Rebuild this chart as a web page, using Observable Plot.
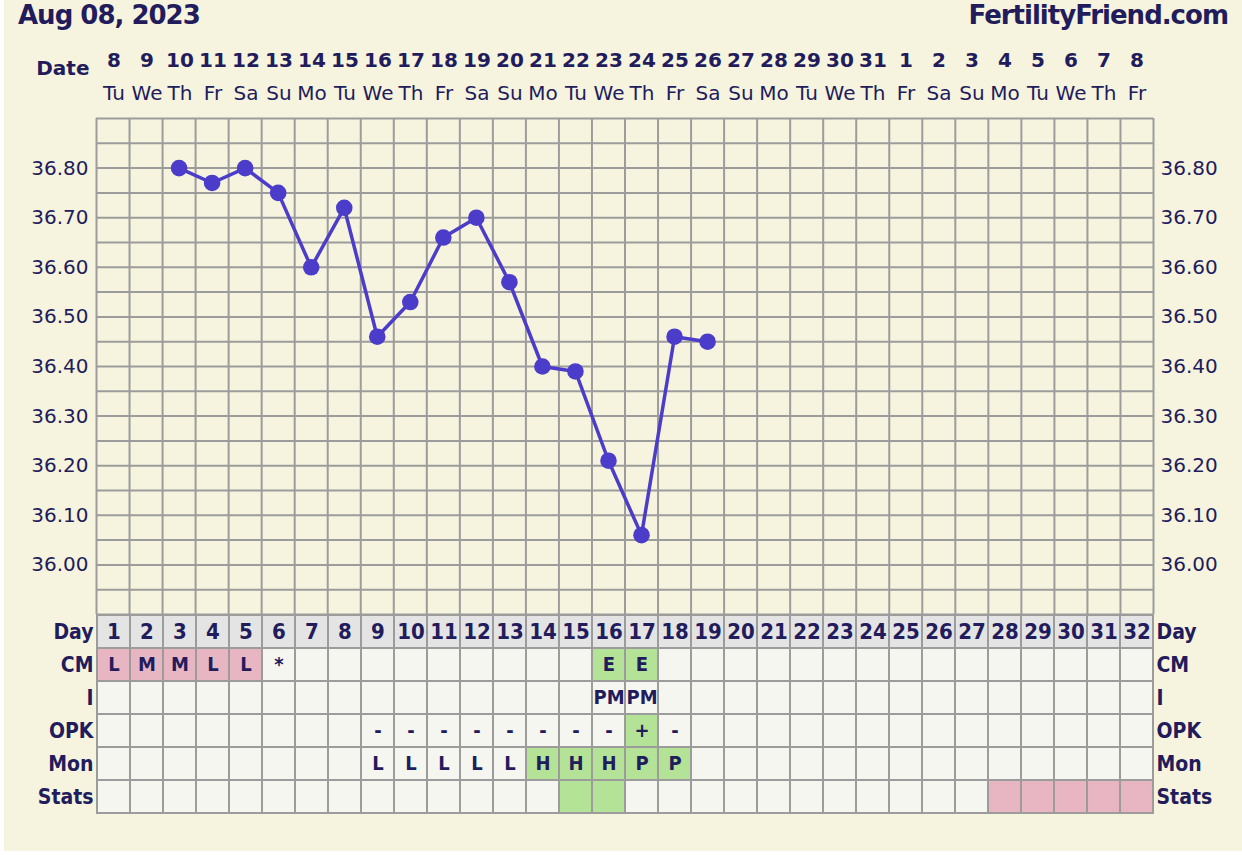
<!DOCTYPE html>
<html><head><meta charset="utf-8">
<script src="https://cdn.jsdelivr.net/npm/d3@7"></script>
<script src="https://cdn.jsdelivr.net/npm/@observablehq/plot@0.6"></script>
<style>
body{margin:0;background:#fff;}
#wrap{position:relative;width:1242px;height:855px;background:#fff;overflow:hidden;}
#bg{position:absolute;left:4px;top:0;width:1238px;height:851px;background:#f6f4de;}
.p{position:absolute;left:0;}
.title{position:absolute;font-family:"DejaVu Sans";font-weight:bold;color:#221c5c;font-size:26px;letter-spacing:-1px;}
</style></head><body>
<div id="wrap"><div id="bg"></div>
<div class="title" style="left:18px;top:0px">Aug 08, 2023</div>
<div class="title" style="right:14px;top:0px">FertilityFriend.com</div>
</div>
<script>
// ---- data ----
const days = d3.range(1, 33);
const dateLabels = ["8","9","10","11","12","13","14","15","16","17","18","19","20","21","22","23","24","25","26","27","28","29","30","31","1","2","3","4","5","6","7","8"];
const dowLabels = ["Tu","We","Th","Fr","Sa","Su","Mo","Tu","We","Th","Fr","Sa","Su","Mo","Tu","We","Th","Fr","Sa","Su","Mo","Tu","We","Th","Fr","Sa","Su","Mo","Tu","We","Th","Fr"];
const tempDays = [3,4,5,6,7,8,9,10,11,12,13,14,15,16,17,18,19];
const tempValues = [36.80,36.77,36.80,36.75,36.60,36.72,36.46,36.53,36.66,36.70,36.57,36.40,36.39,36.21,36.06,36.46,36.45];
const yTicks = [36.0,36.1,36.2,36.3,36.4,36.5,36.6,36.7,36.8];
const rows = ["Day","CM","I","OPK","Mon","Stats"];
const cmDays = [1,2,3,4,5,6,16,17];
const cmText = ["L","M","M","L","L","*","E","E"];
const cmKind = ["period","period","period","period","period","","fertile","fertile"];
const iDays = [16,17];
const iText = ["PM","PM"];
const opkDays = [9,10,11,12,13,14,15,16,17,18];
const opkText = ["-","-","-","-","-","-","-","-","+","-"];
const opkKind = ["","","","","","","","","fertile",""];
const monDays = [9,10,11,12,13,14,15,16,17,18];
const monText = ["L","L","L","L","L","H","H","H","P","P"];
const monKind = ["","","","","","fertile","fertile","fertile","fertile","fertile"];
const statsDays = [15,16,28,29,30,31,32];
const statsKind = ["fertile","fertile","period","period","period","period","period"];

// ---- colours ----
const ink = "#221c5c";
const gridC = "#9c9c9c";
const lineC = "#4b3dc9";
const kindFill = {"period":"#e8b6c2","fertile":"#b4e398","":"#f6f6f0"};
const W = 1242, ML = 96, MR = 89;
const wrap = document.getElementById("wrap");
function place(svg, top){ svg.classList.add("p"); svg.style.top = top + "px"; wrap.appendChild(svg); }

// ---- header: dates ----
const header = Plot.plot({
  width: W, height: 118, marginLeft: ML, marginRight: MR, marginTop: 43.5, marginBottom: 8.5,
  x: {type: "band", domain: days, padding: 0, axis: null},
  y: {type: "band", domain: ["date","dow"], padding: 0, axis: null},
  style: {background: "transparent", fontFamily: "DejaVu Sans", color: ink, overflow: "visible"},
  marks: [
    Plot.text(days, {x: d => d, y: () => "date", text: (d, i) => dateLabels[i], fontSize: 20, fontWeight: "bold", fill: ink, letterSpacing: "-0.8px"}),
    Plot.text(days, {x: d => d, y: () => "dow", text: (d, i) => dowLabels[i], fontSize: 20, fill: ink, letterSpacing: "-0.3px"}),
    Plot.text(["Date"], {y: () => "date", frameAnchor: "left", textAnchor: "end", dx: -7, dy: 8, fontSize: 20, fontWeight: "bold", fill: ink, letterSpacing: "-0.5px"})
  ]
});
place(header, 0);

// ---- temperature chart ----
const temps = tempDays.map((d, i) => ({day: d, temp: tempValues[i]}));
const hGrid = d3.range(0, 21).map(i => +(35.9 + i * 0.05).toFixed(2));
const vGrid = d3.range(0, 33).map(i => i + 0.5);
const chart = Plot.plot({
  width: W, height: 500, marginLeft: ML, marginRight: MR, marginTop: 2, marginBottom: 2,
  x: {domain: [0.5, 32.5], axis: null},
  y: {domain: [35.9, 36.9], axis: null},
  style: {background: "transparent", fontFamily: "DejaVu Sans", fontSize: "20px", color: ink, overflow: "visible"},
  marks: [
    Plot.ruleY(hGrid, {stroke: gridC, strokeWidth: 2}),
    Plot.ruleX(vGrid, {stroke: gridC, strokeWidth: 2}),
    Plot.axisY(yTicks, {anchor: "left", tickSize: 0, tickPadding: 8, tickFormat: d => d.toFixed(2), label: null, fill: ink}),
    Plot.axisY(yTicks, {anchor: "right", tickSize: 0, tickPadding: 7, tickFormat: d => d.toFixed(2), label: null, fill: ink}),
    Plot.line(temps, {x: "day", y: "temp", stroke: lineC, strokeWidth: 3.5}),
    Plot.dot(temps, {x: "day", y: "temp", r: 8.3, fill: lineC})
  ]
});
place(chart, 116);

// ---- table ----
const lookup = {};
function add(row, ds, texts, kinds){ ds.forEach((d, i) => { lookup[row + "|" + d] = {text: texts ? texts[i] : "", kind: kinds ? kinds[i] : ""}; }); }
add("CM", cmDays, cmText, cmKind);
add("I", iDays, iText, null);
add("OPK", opkDays, opkText, opkKind);
add("Mon", monDays, monText, monKind);
add("Stats", statsDays, null, statsKind);
const cells = [];
for (const r of rows) for (const d of days) {
  if (r === "Day") cells.push({row: r, day: d, text: String(d), fill: "#e4e4e4"});
  else { const v = lookup[r + "|" + d] || {text: "", kind: ""}; cells.push({row: r, day: d, text: v.text, fill: kindFill[v.kind]}); }
}
const table = Plot.plot({
  width: W, height: 203, marginLeft: ML, marginRight: MR, marginTop: 2, marginBottom: 2,
  x: {type: "band", domain: days, padding: 0, axis: null},
  y: {type: "band", domain: rows, padding: 0, axis: null},
  color: {type: "identity"},
  style: {background: "transparent", fontFamily: "'DejaVu Sans Condensed', 'DejaVu Sans'", fontWeight: "bold", fontSize: "21px", color: ink, overflow: "visible"},
  marks: [
    Plot.cell(cells, {x: "day", y: "row", fill: "fill", stroke: gridC, strokeWidth: 2}),
    Plot.text(cells.filter(c => c.text), {x: "day", y: "row", text: "text", fill: ink, fontSize: d => d.row === "Day" ? 22 : 20, letterSpacing: "-0.8px"}),
    Plot.axisY({anchor: "left", tickSize: 0, tickPadding: 3, label: null, fill: ink, letterSpacing: "-1px"}),
    Plot.axisY({anchor: "right", tickSize: 0, tickPadding: 3, label: null, fill: ink, letterSpacing: "-1px"})
  ]
});
place(table, 612);
</script>
</body></html>
